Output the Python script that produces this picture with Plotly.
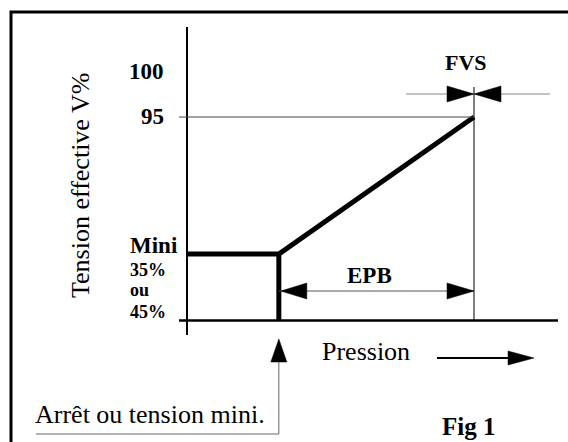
import plotly.graph_objects as go

# ---------------- data (schematic values) ----------------
# x : pression (arbitrary units, y-axis at 0, FVS point at 100)
# y : tension effective V% (x-axis at 0)
pression_courbe = [0, 32, 100]     # plateau start, arrêt/step, FVS point
tension_courbe = [31, 31, 95]      # mini plateau then ramp to 95 %
pression_arret = [32, 32]          # vertical step at "arrêt ou tension mini"
tension_arret = [0, 31]
niveau_95 = 95
pression_epb = [32, 100]           # EPB band
pression_fvs = 100                 # FVS mark

tick_labels_bold = ["100", "95"]
mini_labels = ["Mini", "35%", "ou", "45%"]
y_title = "Tension effective V%"
x_title = "Pression"
arret_label = "Arrêt ou tension mini."
fig_label = "Fig 1"
epb_label = "EPB"
fvs_label = "FVS"

# ---------------- geometry (pixel layout of the drawing) ----------------
W, H = 568, 442
X0PX, Y0PX = 187.0, 320.5        # pixel of the origin (axes crossing)
SX = (474.0 - X0PX) / 100.0      # px per pression unit
SY = (Y0PX - 117.0) / 95.0       # px per tension unit


def px2x(px):
    return (px - X0PX) / SX


def px2y(py):
    return (Y0PX - py) / SY


def dx(px):
    return px / SX


def dy(px):
    return px / SY


def px_paper(px, py):
    return px / W, 1 - py / H


FONT = "Liberation Serif"

fig = go.Figure()

# main characteristic curve
fig.add_trace(go.Scatter(x=pression_courbe, y=tension_courbe, mode="lines",
                         line=dict(color="black", width=5), hoverinfo="skip"))
fig.add_trace(go.Scatter(x=pression_arret, y=tension_arret, mode="lines",
                         line=dict(color="black", width=5), hoverinfo="skip"))

shapes = []


def line(x0, y0, x1, y1, width=1, color="black", ref="data"):
    xr, yr = ("x", "y") if ref == "data" else ("paper", "paper")
    shapes.append(dict(type="line", x0=x0, y0=y0, x1=x1, y1=y1, xref=xr, yref=yr,
                       line=dict(color=color, width=width), layer="above"))


def tri(points, color="black"):
    p = "M " + " L ".join(f"{a},{b}" for a, b in points) + " Z"
    shapes.append(dict(type="path", path=p, xref="x", yref="y",
                       fillcolor=color, line=dict(color=color, width=0.5), layer="above"))


# outer frame (left + top borders)
fx, fy = px_paper(11, 12)
shapes.append(dict(type="path", xref="paper", yref="paper",
                   path=f"M {fx},0 L {fx},{fy} L 1,{fy}",
                   line=dict(color="black", width=3)))

# axes
line(0, px2y(335), 0, px2y(27), width=2)
line(px2x(179), 0, px2x(558), 0, width=2.5)

# 95 % reference line and FVS vertical
line(px2x(179), niveau_95, pression_fvs, niveau_95, width=1, color="#444")
line(pression_fvs, 0, pression_fvs, px2y(87), width=1)

# FVS dimension arrows
yf = px2y(94)
line(px2x(406), yf, px2x(550), yf, width=1, color="#888")
tri([(pression_fvs, yf), (pression_fvs - dx(27), yf + dy(8)), (pression_fvs - dx(27), yf - dy(8))])
tri([(pression_fvs, yf), (pression_fvs + dx(27), yf + dy(8)), (pression_fvs + dx(27), yf - dy(8))])

# EPB dimension arrow
ye = px2y(291)
line(pression_epb[0], ye, pression_epb[1], ye, width=1, color="#555")
tri([(pression_epb[0] + dx(2), ye), (pression_epb[0] + dx(28), ye + dy(8)), (pression_epb[0] + dx(28), ye - dy(8))])
tri([(pression_epb[1], ye), (pression_epb[1] - dx(27), ye + dy(8)), (pression_epb[1] - dx(27), ye - dy(8))])

# Pression arrow
yp = px2y(358)
line(px2x(437), yp, px2x(512), yp, width=2)
tri([(px2x(534), yp), (px2x(508), yp + dy(7)), (px2x(508), yp - dy(7))])

# Arrêt pointer
yu = px2y(434)
line(px2x(36), yu, pression_arret[0], yu, width=1, color="#666")
line(pression_arret[0], yu, pression_arret[0], px2y(360), width=1, color="#666")
tri([(pression_arret[0], px2y(339)), (pression_arret[0] - dx(8), px2y(362)), (pression_arret[0] + dx(8), px2y(362))])

annotations = []


def text(t, px, py, size, xanchor="center", bold=False, angle=0):
    x, y = px_paper(px, py)
    annotations.append(dict(text=f"<b>{t}</b>" if bold else t, x=x, y=y,
                            xref="paper", yref="paper", showarrow=False,
                            xanchor=xanchor, yanchor="middle", textangle=angle,
                            font=dict(family=FONT, size=size, color="black"),
                            borderpad=0))


text(tick_labels_bold[0], 165, 72, 23, xanchor="right", bold=True)
text(tick_labels_bold[1], 165, 117, 23, xanchor="right", bold=True)
text(mini_labels[0], 129, 245, 23, xanchor="left", bold=True)
text(mini_labels[1], 129, 270, 18, xanchor="left", bold=True)
text(mini_labels[2], 129, 290, 18, xanchor="left", bold=True)
text(mini_labels[3], 129, 312, 18, xanchor="left", bold=True)
text(y_title, 80, 186, 26, angle=-90)
text(arret_label, 34, 414, 26, xanchor="left")
text(x_title, 321, 351, 26, xanchor="left")
text(epb_label, 369, 275, 23, bold=True)
text(fvs_label, 466, 63, 22, bold=True)
text(fig_label, 468, 426, 25, bold=True)

fig.update_layout(
    width=W, height=H, autosize=False,
    margin=dict(l=0, r=0, t=0, b=0),
    paper_bgcolor="white", plot_bgcolor="white",
    showlegend=False,
    xaxis=dict(range=[px2x(0), px2x(W)], visible=False, fixedrange=True),
    yaxis=dict(range=[px2y(H), px2y(0)], visible=False, fixedrange=True),
    shapes=shapes, annotations=annotations,
)

fig.write_html("out.html", config={"displayModeBar": False})

# remove the browser's default page margin so the drawing sits at (0, 0)
with open("out.html", encoding="utf-8") as f:
    html = f.read()
html = html.replace("<head>", "<head><style>html,body{margin:0;padding:0;overflow:hidden;}</style>", 1)
with open("out.html", "w", encoding="utf-8") as f:
    f.write(html)
